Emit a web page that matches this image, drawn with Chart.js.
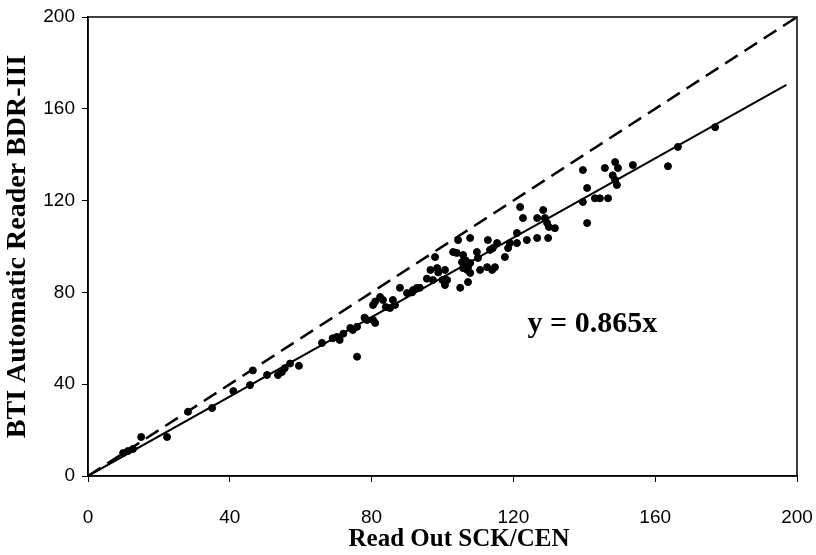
<!DOCTYPE html>
<html>
<head>
<meta charset="utf-8">
<script src="https://cdn.jsdelivr.net/npm/chart.js@4"></script>
<style>
  body { margin: 0; background: #fff; }
  canvas { display: block; }
</style>
</head>
<body>
<canvas id="scatterChart" width="816" height="555"></canvas>
<script>
// readings, SCK/CEN (x) vs BTI BDR-III (y)
const sckValues = [
  9.9, 11.3, 12.7, 15, 22.3, 28.2, 35, 41, 45.7, 46.5,
  50.5, 53.6, 54.7, 55.5, 57, 59.5, 66, 69, 70.2, 71,
  72, 74, 74.7, 75.9, 75.9, 78, 78.7, 80.4, 81, 80.4,
  81, 82.4, 83.2, 84, 85.2, 86, 86.6, 88, 90, 91.4,
  91.7, 92.8, 93.6, 95.6, 96.6, 97.3, 97.9, 98.5, 98.8, 100,
  100.7, 101.3, 100.7, 103, 104, 104.4, 105, 105.5, 105.8, 105.8,
  107, 107.2, 107.8, 107.2, 107.8, 107.8, 106.5, 109.7, 110, 110.6,
  112.6, 112.8, 113.4, 114.2, 114, 114.8, 115.4, 117.6, 118.5, 119,
  121, 121, 121.9, 122.7, 123.8, 126.7, 126.7, 128.4, 128.9, 129.5,
  130, 129.8, 131.7, 139.6, 140.8, 139.6, 140.8, 143, 144.4, 146.7,
  145.8, 148.7, 149.5, 148, 148.7, 149.2, 153.7, 163.6, 166.4, 176.9
];
const bdrValues = [
  10, 10.9, 11.8, 17, 17, 28, 29.6, 37, 39.6, 46,
  44, 44, 45.3, 47, 49, 48, 58, 60, 60.6, 59.3,
  62, 64.5, 63.6, 65, 52, 69, 68, 68, 66.7, 74.5,
  76, 78, 76.7, 73.6, 73.2, 76.7, 74.5, 82, 79.7, 80,
  81, 82, 82, 86, 89.8, 85.4, 95.4, 90.6, 88.7, 85.4,
  89.8, 85.4, 83.2, 97.6, 97.2, 102.8, 82, 93.2, 96.3, 90.6,
  89.8, 84.5, 88.5, 91, 92.8, 103.7, 94, 97.6, 95, 89.8,
  91, 102.8, 98.5, 99.3, 89.8, 91, 101.5, 95.4, 99.3, 101.5,
  101.5, 105.9, 117.2, 112.4, 102.8, 112.4, 103.7, 115.9, 112.4, 110.2,
  108.5, 103.7, 108, 119.4, 125.5, 133.3, 110.2, 121, 121, 121,
  134.2, 136.8, 134.2, 131, 129, 126.8, 135.5, 135, 143.4, 152
];
const slope = 0.865;
const fitEndX = 197;
const axisMax = 200;
const tickStep = 40;
const xTitle = "Read Out SCK/CEN";
const yTitle = "BTI Automatic Reader BDR-III";

const points = sckValues.map((x, i) => ({ x: x, y: bdrValues[i] }));

const frameBox = {
  id: "frameBox",
  afterDraw(chart) {
    const { ctx, chartArea } = chart;
    ctx.save();
    ctx.strokeStyle = "#000";
    ctx.lineWidth = 1.5;
    ctx.strokeRect(chartArea.left, chartArea.top, chartArea.right - chartArea.left, chartArea.bottom - chartArea.top);
    const xs = chart.scales.x, ys = chart.scales.y;
    ctx.fillStyle = "#000";
    ctx.textBaseline = "middle";
    // equation label
    ctx.font = "bold 30px 'Liberation Serif', 'Times New Roman', serif";
    ctx.textAlign = "left";
    ctx.fillText("y = " + slope + "x", xs.getPixelForValue(124), ys.getPixelForValue(66));
    // x axis title, sits a bit right of centre in the original
    ctx.font = "bold 25px 'Liberation Serif', 'Times New Roman', serif";
    ctx.textAlign = "center";
    ctx.fillText(xTitle, 459, 540);
    ctx.restore();
  },
};

const tickFont = { family: "'Liberation Sans', Arial, sans-serif", size: 19 };
const yTitleFont = { family: "'Liberation Serif', 'Times New Roman', serif", size: 28, weight: "bold" };

new Chart(document.getElementById("scatterChart"), {
  type: "scatter",
  data: {
    datasets: [
      {
        label: "Readings",
        data: points,
        backgroundColor: "#000",
        borderColor: "#000",
        pointRadius: 3.5,
        pointHoverRadius: 3.5,
        order: 1,
      },
      {
        label: "Fit",
        data: [{ x: 0, y: 0 }, { x: fitEndX, y: slope * fitEndX }],
        showLine: true,
        borderColor: "#000",
        borderWidth: 2,
        pointRadius: 0,
        order: 2,
      },
      {
        label: "y = x",
        data: [{ x: 0, y: 0 }, { x: axisMax, y: axisMax }],
        showLine: true,
        borderColor: "#000",
        borderWidth: 2.5,
        borderDash: [15, 8],
        pointRadius: 0,
        order: 3,
      },
    ],
  },
  options: {
    responsive: false,
    animation: false,
    layout: { padding: { top: 17, right: 19, left: 0, bottom: 0 } },
    plugins: {
      legend: { display: false },
      tooltip: { enabled: false },
    },
    scales: {
      x: {
        type: "linear",
        min: 0,
        max: axisMax,
        afterFit: (scale) => {
          scale.height = 79;
          scale.paddingLeft = 0;
          scale.paddingRight = 0;
        },
        ticks: { stepSize: tickStep, color: "#000", font: tickFont, padding: 24, maxRotation: 0 },
        grid: { drawOnChartArea: false, drawTicks: true, tickLength: 6, color: "#000" },
        border: { display: true, color: "#000", width: 1.5 },
      },
      y: {
        type: "linear",
        min: 0,
        max: axisMax,
        afterFit: (scale) => {
          scale.width = 88;
          scale.paddingTop = 0;
          scale.paddingBottom = 0;
        },
        ticks: { stepSize: tickStep, color: "#000", font: tickFont, padding: 7 },
        grid: { drawOnChartArea: false, drawTicks: true, tickLength: 6, color: "#000" },
        border: { display: true, color: "#000", width: 1.5 },
        title: { display: true, text: yTitle, color: "#000", font: yTitleFont, padding: { top: 1, bottom: 0 } },
      },
    },
  },
  plugins: [frameBox],
});
</script>
</body>
</html>
